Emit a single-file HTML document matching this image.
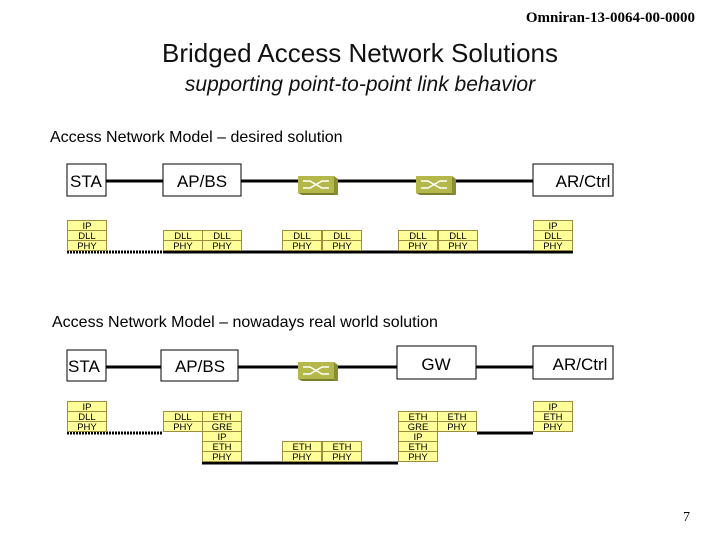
<!DOCTYPE html>
<html><head><meta charset="utf-8"><style>
body{margin:0;background:#fff}
svg{display:block}
.c{font-family:"Liberation Sans",sans-serif;font-size:9.5px;fill:#000}
.b{font-family:"Liberation Sans",sans-serif;font-size:17px;fill:#000}
</style></head><body>
<svg width="720" height="540" viewBox="0 0 720 540" xmlns="http://www.w3.org/2000/svg">
<defs>
<g id="sw">
<rect x="0" y="0" width="36" height="17" fill="#b4b84a"/>
<polygon points="36,0 40,3 40,19 36,17" fill="#8a8d30"/>
<polygon points="0,17 36,17 40,19 4,19" fill="#7c7f2a"/>
<path d="M5,5 H12 L24,12 H31 M5,12 H12 L24,5 H31" stroke="#fff" stroke-width="1.4" fill="none"/>
</g>
</defs>
<text x="695" y="22" text-anchor="end" font-family="Liberation Serif,serif" font-size="15" font-weight="bold">Omniran-13-0064-00-0000</text>
<text x="360" y="62" text-anchor="middle" font-family="Liberation Sans,sans-serif" font-size="26" fill="#111">Bridged Access Network Solutions</text>
<text x="360" y="91" text-anchor="middle" font-family="Liberation Sans,sans-serif" font-size="21" font-style="italic" fill="#111">supporting point-to-point link behavior</text>
<text x="50" y="142" font-family="Liberation Sans,sans-serif" font-size="16">Access Network Model – desired solution</text>
<text x="52" y="327" font-family="Liberation Sans,sans-serif" font-size="16">Access Network Model – nowadays real world solution</text>
<text x="690" y="521" text-anchor="end" font-family="Liberation Serif,serif" font-size="14">7</text>

<!-- top diagram -->
<line x1="106" y1="181" x2="533" y2="181" stroke="#000" stroke-width="3"/>
<rect x="67" y="164" width="39" height="32" fill="#fff" stroke="#000"/>
<text class="b" x="70" y="187">STA</text>
<rect x="163" y="164" width="78" height="32" fill="#fff" stroke="#000"/>
<text class="b" x="202" y="187" text-anchor="middle">AP/BS</text>
<rect x="533" y="164" width="80" height="32" fill="#fff" stroke="#000"/>
<text class="b" x="583" y="187" text-anchor="middle">AR/Ctrl</text>
<use href="#sw" x="298" y="176"/>
<use href="#sw" x="416" y="176"/>
<line x1="67" y1="252" x2="163" y2="252" stroke="#000" stroke-width="3" stroke-dasharray="2,1"/>
<line x1="163" y1="252" x2="573" y2="252" stroke="#000" stroke-width="3"/>

<!-- bottom diagram -->
<line x1="106" y1="367" x2="533" y2="367" stroke="#000" stroke-width="3"/>
<rect x="47" y="350" width="39" height="31" fill="#fff" stroke="#000" transform="translate(20,0)"/>
<text class="b" x="68" y="372">STA</text>
<rect x="161" y="350" width="77" height="31" fill="#fff" stroke="#000"/>
<text class="b" x="200" y="372" text-anchor="middle">AP/BS</text>
<rect x="397" y="346" width="79" height="33" fill="#fff" stroke="#000"/>
<text class="b" x="436" y="370" text-anchor="middle">GW</text>
<rect x="533" y="346" width="80" height="33" fill="#fff" stroke="#000"/>
<text class="b" x="580" y="370" text-anchor="middle">AR/Ctrl</text>
<use href="#sw" x="298" y="362"/>
<line x1="67" y1="433" x2="163" y2="433" stroke="#000" stroke-width="3" stroke-dasharray="2,1"/>
<line x1="202" y1="463" x2="398" y2="463" stroke="#000" stroke-width="3"/>
<line x1="477" y1="433" x2="533" y2="433" stroke="#000" stroke-width="3"/>

<g id="cells" stroke="#a08c40" stroke-width="1" fill="#ffff99">
</g>
<script>
var cells=[
 [67,220,["IP","DLL","PHY"]],[163,230,["DLL","PHY"]],[202,230,["DLL","PHY"]],
 [282,230,["DLL","PHY"]],[322,230,["DLL","PHY"]],[398,230,["DLL","PHY"]],[438,230,["DLL","PHY"]],
 [533,220,["IP","DLL","PHY"]],
 [67,401,["IP","DLL","PHY"]],[163,411,["DLL","PHY"]],[202,411,["ETH","GRE","IP","ETH","PHY"]],
 [282,441,["ETH","PHY"]],[322,441,["ETH","PHY"]],
 [398,411,["ETH","GRE","IP","ETH","PHY"]],[437,411,["ETH","PHY"]],
 [533,401,["IP","ETH","PHY"]]
];
var g=document.getElementById('cells'),ns="http://www.w3.org/2000/svg";
cells.forEach(function(c){c[2].forEach(function(t,i){
 var r=document.createElementNS(ns,'rect');r.setAttribute('x',c[0]+0.5);r.setAttribute('y',c[1]+i*10+0.5);
 r.setAttribute('width',39);r.setAttribute('height',10);g.appendChild(r);
 var x=document.createElementNS(ns,'text');x.setAttribute('class','c');x.setAttribute('x',c[0]+20);
 x.setAttribute('y',c[1]+i*10+9);x.setAttribute('text-anchor','middle');x.setAttribute('stroke','none');
 x.textContent=t;g.appendChild(x);});});
</script>
</svg>
</body></html>
